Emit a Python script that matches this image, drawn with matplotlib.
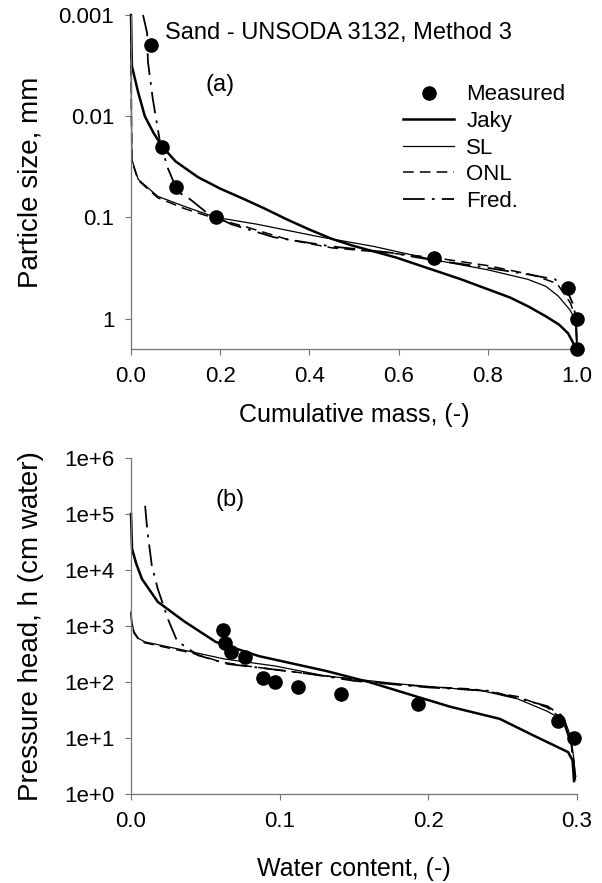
import matplotlib
matplotlib.use("Agg")
import matplotlib.pyplot as plt
from matplotlib.ticker import FixedLocator, FixedFormatter, NullLocator

plt.rcParams['font.family'] = ['Liberation Sans', 'DejaVu Sans']

# ---------------- Panel (a): particle size distribution ----------------
meas_a_x = [0.045, 0.07, 0.10, 0.19, 0.68, 0.98, 1.0, 1.0]
meas_a_y = [0.002, 0.02, 0.05, 0.1, 0.25, 0.5, 1.0, 2.0]

jaky_a_x = [0.0, 0.002, 0.016, 0.031, 0.05, 0.07, 0.10, 0.15, 0.20, 0.25, 0.30, 0.35, 0.40, 0.45, 0.50, 0.594, 0.741, 0.85, 0.891, 0.93, 0.96, 0.98, 0.996, 1.0]
jaky_a_y = [0.001, 0.0032, 0.0058, 0.01, 0.0145, 0.02, 0.028, 0.04, 0.052, 0.065, 0.082, 0.105, 0.132, 0.163, 0.192, 0.249, 0.411, 0.62, 0.76, 0.95, 1.15, 1.4, 1.9, 2.0]

sl_a_x = [0.0, 0.001, 0.002, 0.016, 0.06, 0.12, 0.19, 0.283, 0.417, 0.545, 0.674, 0.80, 0.89, 0.93, 0.958, 0.984, 0.996, 1.0]
sl_a_y = [0.001, 0.01, 0.0267, 0.042, 0.062, 0.078, 0.1, 0.117, 0.154, 0.194, 0.26, 0.33, 0.41, 0.48, 0.6, 0.82, 1.02, 2.0]

onl_a_x = [0.0, 0.001, 0.002, 0.016, 0.06, 0.12, 0.19, 0.26, 0.35, 0.45, 0.58, 0.68, 0.80, 0.90, 0.955, 0.985, 0.998, 1.0]
onl_a_y = [0.001, 0.01, 0.028, 0.043, 0.064, 0.082, 0.103, 0.125, 0.165, 0.20, 0.225, 0.25, 0.30, 0.37, 0.45, 0.70, 1.0, 2.0]

fred_a_x = [0.027, 0.036, 0.038, 0.049, 0.065, 0.083, 0.105, 0.132, 0.17, 0.225, 0.32, 0.45, 0.578, 0.667, 0.779, 0.89, 0.951, 0.975, 0.99, 0.998, 1.0]
fred_a_y = [0.001, 0.0015, 0.0029, 0.0068, 0.018, 0.033, 0.056, 0.066, 0.09, 0.117, 0.157, 0.194, 0.222, 0.26, 0.305, 0.366, 0.41, 0.5, 0.7, 0.98, 2.0]

ticks_a_x = [0.0, 0.2, 0.4, 0.6, 0.8, 1.0]
ticklabels_a_x = ["0.0", "0.2", "0.4", "0.6", "0.8", "1.0"]
ticks_a_y = [0.001, 0.01, 0.1, 1.0]
ticklabels_a_y = ["0.001", "0.01", "0.1", "1"]

# ---------------- Panel (b): water retention ----------------
meas_b_x = [0.062, 0.063, 0.067, 0.077, 0.089, 0.097, 0.112, 0.141, 0.193, 0.287, 0.298]
meas_b_y = [850, 500, 340, 280, 120, 100, 80, 60, 40, 20, 10]

jaky_b_x = [0.0, 0.0007, 0.0035, 0.0074, 0.018, 0.036, 0.057, 0.086, 0.131, 0.16, 0.193, 0.215, 0.248, 0.271, 0.294, 0.297, 0.298]
jaky_b_y = [1e5, 2.4e4, 1.3e4, 6.9e3, 2.7e3, 1.2e3, 520, 290, 158, 100, 54, 36, 22, 11, 5.6, 4, 1.7]

sl_b_x = [0.0, 0.0005, 0.002, 0.005, 0.0094, 0.041, 0.063, 0.097, 0.131, 0.181, 0.237, 0.26, 0.28, 0.292, 0.296, 0.298, 0.299]
sl_b_y = [1.8e3, 1.2e3, 800, 600, 520, 345, 257, 193, 128, 92, 69, 50, 30, 20, 10, 4, 1.8]

onl_b_x = [0.0, 0.0005, 0.002, 0.005, 0.0094, 0.03, 0.041, 0.061, 0.08, 0.11, 0.14, 0.17, 0.20, 0.23, 0.26, 0.28, 0.29, 0.296, 0.299]
onl_b_y = [1.7e3, 1.1e3, 750, 580, 500, 380, 330, 226, 190, 151, 120, 95, 82, 75, 55, 35, 22, 8, 2]

fred_b_x = [0.0095, 0.011, 0.014, 0.018, 0.025, 0.031, 0.045, 0.065, 0.09, 0.12, 0.15, 0.20, 0.24, 0.267, 0.28, 0.29, 0.296, 0.299]
fred_b_y = [1.4e5, 5e4, 1.2e4, 4.6e3, 1.3e3, 540, 300, 210, 175, 140, 105, 80, 70, 46, 37, 25, 8, 2]

ticks_b_x = [0.0, 0.1, 0.2, 0.3]
ticklabels_b_x = ["0.0", "0.1", "0.2", "0.3"]
ticks_b_y = [1, 10, 100, 1e3, 1e4, 1e5, 1e6]
ticklabels_b_y = ["1e+0", "1e+1", "1e+2", "1e+3", "1e+4", "1e+5", "1e+6"]

FS_TICK = 16
FS_TEXT = 17
FS_XLAB = 18
FS_YLAB = 20
W, H = 602, 883
fig = plt.figure(figsize=(W / 100, H / 100), dpi=100)

L, R = 131, 577
axA = fig.add_axes([L / W, 1 - 349 / H, (R - L) / W, (349 - 15) / H])
axB = fig.add_axes([L / W, 1 - 794 / H, (R - L) / W, (794 - 458) / H])

styles = dict(
    jaky=dict(color='black', lw=1.8, ls='-'),
    sl=dict(color='black', lw=0.9, ls='-'),
    onl=dict(color='black', lw=1.1, ls=(0, (7, 4))),
    fred=dict(color='black', lw=1.3, ls=(0, (12, 4, 1.5, 4))),
)


def style_axes(ax):
    for s in ('top', 'right'):
        ax.spines[s].set_visible(False)
    for s in ('left', 'bottom'):
        ax.spines[s].set_color('0.45')
        ax.spines[s].set_linewidth(0.9)
    ax.tick_params(axis='both', which='major', direction='out', length=4,
                   width=0.8, color='0.45', labelsize=FS_TICK, pad=8)
    ax.yaxis.set_minor_locator(NullLocator())
    ax.xaxis.set_minor_locator(NullLocator())


# Panel (a)
axA.set_yscale('log')
hM, = axA.plot(meas_a_x, meas_a_y, 'o', color='black', ms=9.5, zorder=5, label='Measured', clip_on=False)
hJ, = axA.plot(jaky_a_x, jaky_a_y, label='Jaky', clip_on=False, **styles['jaky'])
hS, = axA.plot(sl_a_x, sl_a_y, label='SL', clip_on=False, **styles['sl'])
hO, = axA.plot(onl_a_x, onl_a_y, label='ONL', clip_on=False, **styles['onl'])
hF, = axA.plot(fred_a_x, fred_a_y, label='Fred.', clip_on=False, **styles['fred'])
axA.set_xlim(0, 1.0)
axA.set_ylim(2.0, 0.001)
style_axes(axA)
axA.yaxis.set_major_locator(FixedLocator(ticks_a_y))
axA.yaxis.set_major_formatter(FixedFormatter(ticklabels_a_y))
axA.xaxis.set_major_locator(FixedLocator(ticks_a_x))
axA.xaxis.set_major_formatter(FixedFormatter(ticklabels_a_x))
axA.set_xlabel('Cumulative mass, (-)', fontsize=FS_XLAB, labelpad=12)
axA.set_ylabel('Particle size, mm', fontsize=FS_YLAB)
axA.yaxis.set_label_coords((44 - L) / (R - L), 0.5)
axA.text(0.076, 0.946, 'Sand - UNSODA 3132, Method 3', transform=axA.transAxes,
         fontsize=FS_TEXT, va='center', ha='left')
axA.text(0.2, 0.79, '(a)', transform=axA.transAxes, fontsize=FS_TEXT, va='center', ha='center')
axA.legend(handles=[hM, hJ, hS, hO, hF], loc='upper left', bbox_to_anchor=(0.61, 0.792),
           frameon=False, fontsize=FS_TICK, borderpad=0, borderaxespad=0,
           handlelength=2.3, handletextpad=0.55, labelspacing=0.25, numpoints=1)

# Panel (b)
axB.set_yscale('log')
axB.plot(meas_b_x, meas_b_y, 'o', color='black', ms=9.5, zorder=5, clip_on=False)
axB.plot(jaky_b_x, jaky_b_y, clip_on=False, **styles['jaky'])
axB.plot(sl_b_x, sl_b_y, clip_on=False, **styles['sl'])
axB.plot(onl_b_x, onl_b_y, clip_on=False, **styles['onl'])
axB.plot(fred_b_x, fred_b_y, clip_on=False, **styles['fred'])
axB.set_xlim(0, 0.3)
axB.set_ylim(1, 1e6)
style_axes(axB)
axB.yaxis.set_major_locator(FixedLocator(ticks_b_y))
axB.yaxis.set_major_formatter(FixedFormatter(ticklabels_b_y))
axB.xaxis.set_major_locator(FixedLocator(ticks_b_x))
axB.xaxis.set_major_formatter(FixedFormatter(ticklabels_b_x))
axB.set_xlabel('Water content, (-)', fontsize=FS_XLAB, labelpad=18)
axB.set_ylabel('Pressure head, h (cm water)', fontsize=FS_YLAB)
axB.yaxis.set_label_coords((44 - L) / (R - L), 0.5)
axB.text(0.222, 0.875, '(b)', transform=axB.transAxes, fontsize=FS_TEXT, va='center', ha='center')

fig.savefig('out.png', dpi=100)
